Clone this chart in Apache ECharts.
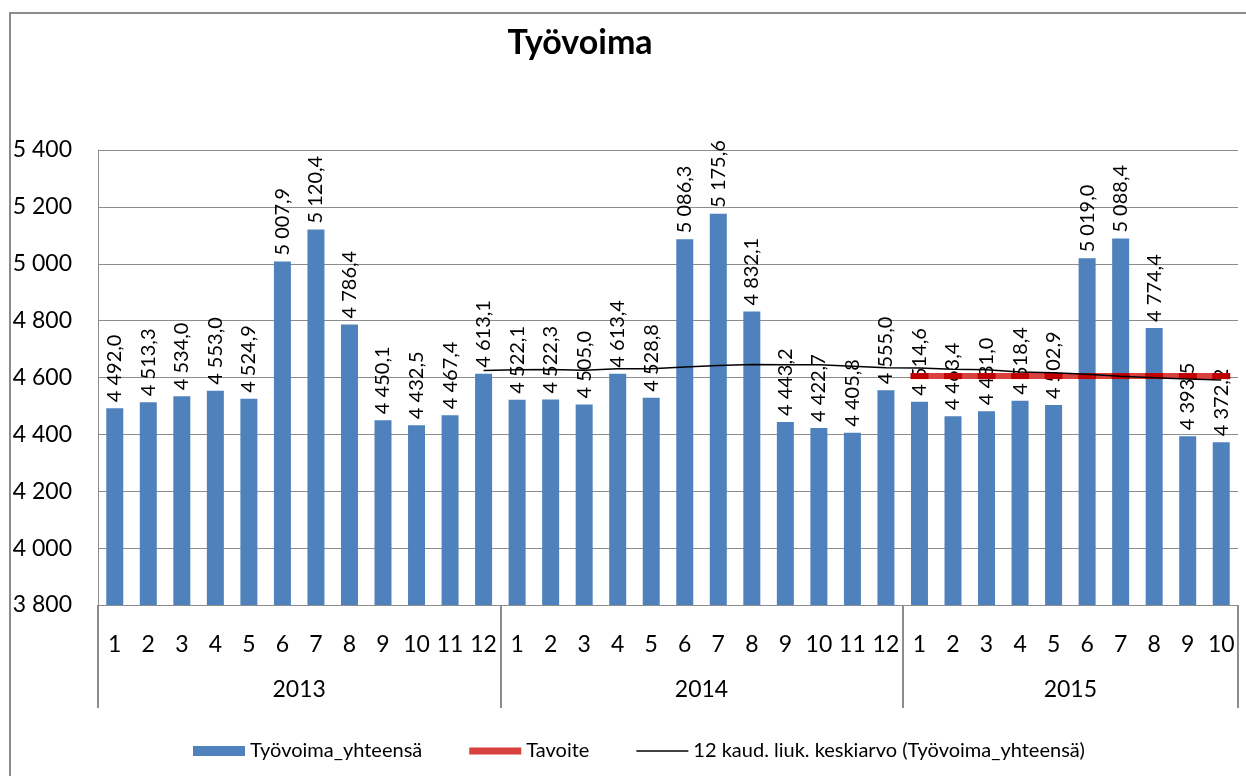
<!DOCTYPE html>
<html>
<head>
<meta charset="utf-8">
<title>Työvoima</title>
<script src="https://cdn.jsdelivr.net/npm/echarts@6/dist/echarts.min.js"></script>
<style>
  html, body { margin: 0; padding: 0; background: #fff; }
  #chart { width: 1246px; height: 776px; }
</style>
</head>
<body>
<div id="chart"></div>
<script>
// data
const years = ['2013', '2014', '2015'];
const months = [
  '1', '2', '3', '4', '5', '6', '7', '8', '9', '10', '11', '12',
  '1', '2', '3', '4', '5', '6', '7', '8', '9', '10', '11', '12',
  '1', '2', '3', '4', '5', '6', '7', '8', '9', '10'
];
const monthsPerYear = [12, 12, 10];

const tyovoima = [
  4492.0, 4513.3, 4534.0, 4553.0, 4524.9, 5007.9, 5120.4, 4786.4, 4450.1, 4432.5, 4467.4, 4613.1,
  4522.1, 4522.3, 4505.0, 4613.4, 4528.8, 5086.3, 5175.6, 4832.1, 4443.2, 4422.7, 4405.8, 4555.0,
  4514.6, 4463.4, 4481.0, 4518.4, 4502.9, 5019.0, 5088.4, 4774.4, 4393.5, 4372.2
];

const tavoite = [
  null, null, null, null, null, null, null, null, null, null, null, null,
  null, null, null, null, null, null, null, null, null, null, null, null,
  4605, 4605, 4605, 4605, 4605, 4605, 4605, 4605, 4605, 4605
];

const liukKeskiarvo = [
  null, null, null, null, null, null, null, null, null, null, null, 4624.6,
  4627.1, 4627.9, 4625.4, 4630.5, 4630.8, 4637.3, 4641.9, 4645.7, 4645.2, 4644.4, 4639.2, 4634.4,
  4633.8, 4628.9, 4626.9, 4619.0, 4616.8, 4611.2, 4604.0, 4599.2, 4595.0, 4590.8
];

const yTicks = [3800, 4000, 4200, 4400, 4600, 4800, 5000, 5200, 5400];

const font = 'Lato, "Noto Sans", sans-serif';
const gray = '#8c8c8c';

function spaced(s) {
  return s.replace(/\B(?=(\d{3})+(?!\d))/g, ' ');
}
function fmt1(v) {
  const parts = v.toFixed(1).split('.');
  return spaced(parts[0]) + ',' + parts[1];
}

// year label positions = middle of each year's months
const yearMid = [];
let acc = 0;
monthsPerYear.forEach(n => { yearMid.push(acc + n / 2); acc += n; });

let myChart = echarts.init(document.getElementById('chart'));
let option = {
  animation: false,
  textStyle: { fontFamily: font },
  title: {
    text: 'Työvoima',
    left: 575,
    textAlign: 'center',
    top: 21,
    textStyle: { fontFamily: font, fontSize: 34, fontWeight: 'bold', color: '#000' }
  },
  graphic: [{
    type: 'rect',
    shape: { x: 10, y: 13, width: 1300, height: 800 },
    style: { fill: 'none', stroke: gray, lineWidth: 2 },
    silent: true
  }],
  legend: {
    left: 188,
    top: 736,
    itemWidth: 52,
    itemHeight: 10,
    itemGap: 47,
    textStyle: { fontFamily: font, fontSize: 20, color: '#000' },
    data: [
      { name: 'Työvoima_yhteensä', icon: 'rect' },
      { name: 'Tavoite', icon: 'path://M0,0H52V7H0Z', itemStyle: { color: '#D9413E' } },
      { name: '12 kaud. liuk. keskiarvo (Työvoima_yhteensä)', icon: 'path://M0,0H52V1.5H0Z' }
    ]
  },
  grid: {
    left: 98,
    right: 8,
    top: 150,
    bottom: 171,
    outerBoundsMode: 'none'
  },
  xAxis: [
    {
      type: 'category',
      data: months,
      axisLine: { lineStyle: { color: gray, width: 1 } },
      axisTick: {
        show: true,
        length: 103,
        interval: (i) => i % 12 === 0,
        lineStyle: { color: gray, width: 2 }
      },
      axisLabel: { interval: 0, margin: 28, fontSize: 23, color: '#000', fontFamily: font }
    },
    {
      type: 'value',
      min: 0,
      max: acc,
      position: 'bottom',
      offset: 60,
      axisLine: { show: false },
      axisTick: { show: false },
      splitLine: { show: false },
      axisLabel: {
        customValues: yearMid,
        margin: 13,
        fontSize: 23,
        color: '#000',
        fontFamily: font,
        formatter: (v) => years[yearMid.indexOf(v)]
      }
    }
  ],
  yAxis: {
    type: 'value',
    min: yTicks[0],
    max: yTicks[yTicks.length - 1],
    interval: 200,
    axisLine: { show: true, lineStyle: { color: gray } },
    axisTick: { show: false },
    splitLine: { lineStyle: { color: gray, width: 1 } },
    axisLabel: {
      margin: 26,
      fontSize: 23,
      color: '#000',
      fontFamily: font,
      formatter: (v) => spaced(String(v))
    }
  },
  series: [
    {
      name: 'Työvoima_yhteensä',
      type: 'bar',
      data: tyovoima,
      barWidth: 17,
      itemStyle: { color: '#4F81BD' },
      label: {
        show: true,
        position: 'top',
        rotate: 90,
        align: 'left',
        verticalAlign: 'middle',
        distance: 6,
        fontSize: 20,
        color: '#000',
        fontFamily: font,
        formatter: (p) => fmt1(p.value)
      }
    },
    {
      name: 'Tavoite',
      type: 'line',
      data: tavoite,
      symbol: 'rect',
      symbolSize: [18, 6],
      itemStyle: { color: '#C00000' },
      lineStyle: { color: '#D9413E', width: 6 },
      z: 3
    },
    {
      name: '12 kaud. liuk. keskiarvo (Työvoima_yhteensä)',
      type: 'line',
      data: liukKeskiarvo,
      symbol: 'none',
      itemStyle: { color: '#000' },
      lineStyle: { color: '#000', width: 1.5 },
      z: 4
    }
  ]
};

myChart.setOption(option);
</script>
</body>
</html>
